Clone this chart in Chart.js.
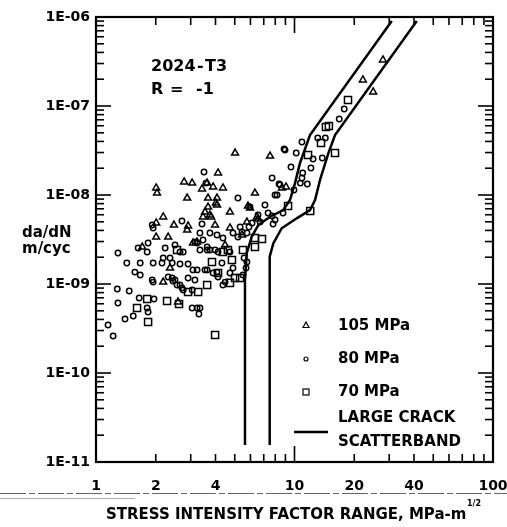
<!DOCTYPE html>
<html>
<head>
<meta charset="utf-8">
<script src="https://cdn.jsdelivr.net/npm/chart.js@4/dist/chart.umd.min.js"></script>
<style>
  html, body { margin: 0; padding: 0; background: #fff; }
</style>
</head>
<body>
<canvas id="fcg" width="507" height="527"></canvas>
<script>
/* Data: dK (MPa-m^1/2) and da/dN (m/cyc) */
const tri105X = [2.01, 2.03, 2.78, 3.05, 2.88, 2.18, 2.01, 2.47, 2.01, 2.31, 2.91, 5.02, 4.12, 3.63, 4.36, 3.42, 3.67, 4.07, 4.02, 6.32,
  3.67, 3.54, 3.46, 3.80, 5.97, 3.98, 5.76, 6.47, 4.73, 2.88, 3.08, 2.36, 3.23, 2.18, 2.59, 27.9, 22.1, 24.9, 7.53, 9.06,
  6.55, 8.65, 5.83, 3.89, 4.07, 3.75, 1.71, 5.44, 4.47, 4.73];
const tri105Y = [1.20e-8, 1.05e-8, 1.40e-8, 1.36e-8, 9.25e-9, 5.66e-9, 4.85e-9, 4.60e-9, 3.37e-9, 3.37e-9, 4.49e-9, 2.96e-8, 1.77e-8, 1.36e-8, 1.20e-8, 1.17e-8, 9.25e-9, 9.25e-9, 8.13e-9, 1.05e-8,
  7.33e-9, 6.44e-9, 5.66e-9, 5.66e-9, 7.14e-9, 4.60e-9, 4.97e-9, 5.66e-9, 6.44e-9, 4.04e-9, 2.89e-9, 1.51e-9, 2.96e-9, 1.05e-9, 6.28e-10, 3.29e-7, 1.96e-7, 1.44e-7, 2.74e-8, 1.23e-8,
  5.37e-9, 1.20e-8, 7.52e-9, 1.23e-8, 7.72e-9, 5.96e-9, 2.60e-9, 3.55e-9, 2.74e-9, 4.26e-9];

const circ80X = [1.15, 1.22, 1.28, 1.29, 1.47, 1.40, 1.54, 1.65, 1.96, 1.81, 1.83, 1.94, 1.57, 1.67, 1.43, 1.67, 1.94, 2.15, 2.18, 2.36,
  2.42, 2.65, 2.91, 2.44, 2.65, 2.75, 3.05, 3.23, 3.34, 3.30, 3.23, 1.29, 1.63, 1.81, 2.23, 2.75, 3.15, 3.34, 3.63, 3.98,
  4.12, 3.63, 3.08, 3.63, 4.31, 4.90, 1.92, 2.31, 2.42, 2.50, 2.91, 3.15, 2.56, 2.71, 3.05, 3.89, 4.12, 4.47, 4.36, 1.94,
  1.92, 2.71, 1.83, 2.50, 3.50, 3.58, 5.19, 3.42, 5.90, 8.17, 8.45, 7.10, 5.97, 6.55, 7.36, 7.98, 5.32, 6.71, 3.34, 3.75,
  4.07, 3.23, 3.46, 4.36, 4.90, 5.19, 5.44, 5.76, 2.65, 3.75, 4.73, 3.54, 4.07, 4.73, 5.76, 17.8, 16.8, 13.1, 14.3, 10.9,
  8.86, 10.2, 12.4, 13.8, 9.60, 12.1, 11.0, 10.9, 10.7, 11.6, 7.71, 8.36, 7.98, 9.94, 7.71, 8.75, 6.11, 7.80, 8.96, 5.57,
  5.70, 5.50];
const circ80Y = [3.46e-10, 2.60e-10, 8.79e-10, 6.12e-10, 8.34e-10, 4.04e-10, 4.37e-10, 6.96e-10, 6.79e-10, 5.37e-10, 4.85e-10, 1.05e-9, 1.36e-9, 1.26e-9, 1.72e-9, 1.72e-9, 1.72e-9, 1.72e-9, 1.96e-9, 1.96e-9,
  1.72e-9, 1.68e-9, 1.68e-9, 1.08e-9, 9.75e-10, 8.56e-10, 5.37e-10, 5.37e-10, 5.37e-10, 4.60e-10, 1.44e-9, 2.23e-9, 2.54e-9, 2.29e-9, 2.54e-9, 2.29e-9, 2.96e-9, 2.41e-9, 2.41e-9, 2.41e-9,
  2.29e-9, 2.60e-9, 1.44e-9, 1.44e-9, 1.72e-9, 1.51e-9, 1.11e-9, 1.20e-9, 1.17e-9, 1.11e-9, 1.17e-9, 1.11e-9, 9.75e-10, 9.02e-10, 8.56e-10, 1.33e-9, 1.20e-9, 1.05e-9, 9.75e-10, 4.26e-9,
  4.60e-9, 5.10e-9, 2.89e-9, 2.74e-9, 1.81e-8, 1.36e-8, 9.25e-9, 4.72e-9, 4.37e-9, 1.00e-8, 1.30e-8, 7.72e-9, 7.33e-9, 5.96e-9, 6.28e-9, 5.24e-9, 4.37e-9, 4.97e-9, 3.74e-9, 3.74e-9,
  3.55e-9, 2.89e-9, 3.12e-9, 3.29e-9, 3.74e-9, 3.37e-9, 3.84e-9, 3.74e-9, 2.29e-9, 2.41e-9, 2.29e-9, 1.44e-9, 1.36e-9, 1.33e-9, 1.77e-9, 9.25e-8, 7.14e-8, 4.37e-8, 4.37e-8, 3.94e-8,
  3.29e-8, 2.96e-8, 2.54e-8, 2.60e-8, 2.06e-8, 2.01e-8, 1.77e-8, 1.55e-8, 1.36e-8, 1.33e-8, 1.55e-8, 1.33e-8, 1.00e-8, 1.14e-8, 5.81e-9, 6.28e-9, 4.85e-9, 4.72e-9, 3.20e-8, 1.96e-9,
  1.51e-9, 1.26e-9];

const sq70X = [1.61, 1.81, 1.83, 2.28, 2.62, 2.91, 3.27, 3.63, 3.98, 2.56, 4.36, 3.84, 4.62, 4.84, 4.12, 4.73, 5.02, 5.32, 6.32, 6.86,
  6.32, 5.50, 18.6, 14.4, 14.9, 13.6, 11.7, 16.0, 9.28, 12.0];
const sq70Y = [5.37e-10, 6.79e-10, 3.74e-10, 6.44e-10, 5.96e-10, 8.13e-10, 8.13e-10, 9.75e-10, 2.67e-10, 2.41e-9, 2.29e-9, 1.77e-9, 2.41e-9, 1.86e-9, 1.33e-9, 1.03e-9, 1.17e-9, 1.17e-9, 2.60e-9, 3.20e-9,
  3.29e-9, 2.41e-9, 1.17e-7, 5.81e-8, 5.96e-8, 3.84e-8, 2.81e-8, 2.96e-8, 7.52e-9, 6.61e-9];

// large crack scatterband, lower and upper bound
const bandLowX = [5.63, 5.63, 5.75, 6.09, 6.57, 7.53, 8.78, 9.49, 10.06, 10.66, 11.97, 30.9];
const bandLowY = [1.55e-11, 1.11e-9, 2.23e-9, 3.40e-9, 4.60e-9, 5.70e-9, 6.78e-9, 8.79e-9, 1.36e-8, 2.29e-8, 4.72e-8, 9.0e-7];
const bandHighX = [7.50, 7.50, 7.82, 8.62, 10.26, 11.97, 12.69, 13.45, 14.80, 16.0, 41.3];
const bandHighY = [1.55e-11, 2.03e-9, 2.86e-9, 4.23e-9, 5.47e-9, 6.78e-9, 8.79e-9, 1.48e-8, 2.94e-8, 4.72e-8, 9.0e-7];

const xTickLabels = [1, 2, 4, 10, 20, 40, 100];
const yTickLabels = [1e-11, 1e-10, 1e-9, 1e-8, 1e-7, 1e-6];

const FONT = '"DejaVu Sans", sans-serif';

function pts(xs, ys) {
  return xs.map((x, i) => ({x: x, y: ys[i]}));
}

function marker(style, r) {
  return {
    type: 'scatter', pointStyle: style, pointRadius: r, pointHoverRadius: r,
    borderColor: '#000', backgroundColor: 'rgba(0,0,0,0)', pointBorderWidth: 1.5
  };
}

function band(xs, ys) {
  return {
    type: 'scatter', data: pts(xs, ys), showLine: true, pointRadius: 0,
    borderColor: '#000', borderWidth: 2.5, fill: false
  };
}

// frame, inward ticks on all four sides, texts and legend
const decor = {
  id: 'decor',
  afterDraw(chart) {
    const {ctx, chartArea: a, scales: {x, y}} = chart;
    ctx.save();
    ctx.strokeStyle = '#000';
    ctx.fillStyle = '#000';
    ctx.lineWidth = 2.2;
    ctx.strokeRect(a.left, a.top, a.right - a.left, a.bottom - a.top);

    const seg = (x1, y1, x2, y2) => { ctx.beginPath(); ctx.moveTo(x1, y1); ctx.lineTo(x2, y2); ctx.stroke(); };
    ctx.lineWidth = 1.6;
    for (let d = 1; d < 100; d *= 10) {
      for (let m = 1; m < 10; m++) {
        const v = d * m;
        if (v <= 1) continue;
        const px = x.getPixelForValue(v);
        const len = m === 1 ? 16 : 8;
        seg(px, a.bottom, px, a.bottom - len);
        seg(px, a.top, px, a.top + len);
      }
    }
    for (let e = -11; e < -6; e++) {
      for (let m = 1; m < 10; m++) {
        const v = m * Math.pow(10, e);
        if (e === -11 && m === 1) continue;
        const py = y.getPixelForValue(v);
        const len = m === 1 ? 15 : 8;
        seg(a.left, py, a.left + len, py);
        seg(a.right, py, a.right - len, py);
      }
    }

    // labels in the plot
    ctx.textBaseline = 'alphabetic';
    ctx.textAlign = 'left';
    ctx.font = 'bold 16px ' + FONT;
    ctx.fillText('2024', 151, 71);
    ctx.fillText('-', 197, 71);
    ctx.fillText('T3', 205, 71);
    ctx.fillText('R', 151, 94);
    ctx.fillText('=', 170, 94);
    ctx.fillText('-1', 196, 94);

    // y axis title, horizontal
    ctx.font = 'bold 15px ' + FONT;
    ctx.fillText('da/dN', 22, 237);
    ctx.fillText('m/cyc', 22, 253);

    // x axis title
    ctx.font = 'bold 15px ' + FONT;
    ctx.fillText('STRESS INTENSITY FACTOR RANGE, MPa-m', 106, 519);
    ctx.font = 'bold 8px ' + FONT;
    ctx.fillText('1/2', 467, 506);

    // legend
    ctx.font = 'bold 15px ' + FONT;
    ctx.textBaseline = 'middle';
    ctx.lineWidth = 1.2;
    ctx.beginPath();
    ctx.moveTo(306, 322); ctx.lineTo(309, 327.5); ctx.lineTo(303, 327.5); ctx.closePath(); ctx.stroke();
    ctx.fillText('105 MPa', 338, 326);
    ctx.beginPath(); ctx.arc(306, 359, 2, 0, Math.PI * 2); ctx.stroke();
    ctx.fillText('80 MPa', 338, 359);
    ctx.strokeRect(303, 389, 6, 6);
    ctx.fillText('70 MPa', 338, 392);
    ctx.lineWidth = 2.5;
    seg(294, 432, 328, 432);
    ctx.fillText('LARGE CRACK', 338, 418);
    ctx.fillText('SCATTERBAND', 338, 442);

    // scan lines under the tick labels
    ctx.lineWidth = 1;
    ctx.strokeStyle = '#666';
    ctx.setLineDash([26, 3, 6, 3]);
    seg(0, 493.5, 507, 493.5);
    ctx.setLineDash([]);
    ctx.strokeStyle = '#aaa';
    seg(0, 498.5, 135, 498.5);
    ctx.restore();
  }
};

new Chart('fcg', {
  type: 'scatter',
  data: {
    datasets: [
      Object.assign(marker('triangle', 4), {label: '105 MPa', data: pts(tri105X, tri105Y)}),
      Object.assign(marker('circle', 2.7), {label: '80 MPa', data: pts(circ80X, circ80Y)}),
      Object.assign(marker('rect', 5), {label: '70 MPa', data: pts(sq70X, sq70Y)}),
      Object.assign(band(bandLowX, bandLowY), {label: 'LARGE CRACK SCATTERBAND'}),
      Object.assign(band(bandHighX, bandHighY), {label: 'upper'})
    ]
  },
  options: {
    responsive: false,
    animation: false,
    layout: {padding: {left: 0, right: 14, top: 17, bottom: 0}},
    plugins: {legend: {display: false}, tooltip: {enabled: false}},
    scales: {
      x: {
        type: 'logarithmic', min: 1, max: 100,
        grid: {display: false, drawTicks: false},
        border: {display: false},
        afterBuildTicks: s => { s.ticks = xTickLabels.map(v => ({value: v})); },
        afterFit: s => { s.height = 65; s.paddingLeft = 0; s.paddingRight = 0; },
        ticks: {
          autoSkip: false, maxRotation: 0, padding: 16, color: '#000',
          font: {family: FONT, size: 14, weight: 'bold'},
          callback: v => String(v)
        }
      },
      y: {
        type: 'logarithmic', min: 1e-11, max: 1e-6,
        grid: {display: false, drawTicks: false},
        border: {display: false},
        afterBuildTicks: s => { s.ticks = yTickLabels.map(v => ({value: v})); },
        afterFit: s => { s.width = 96; s.paddingTop = 0; s.paddingBottom = 0; },
        ticks: {
          autoSkip: false, padding: 6, color: '#000',
          font: {family: FONT, size: 14, weight: 'bold'},
          callback: v => '1E-' + String(Math.round(-Math.log10(v))).padStart(2, '0')
        }
      }
    }
  },
  plugins: [decor]
});
</script>
</body>
</html>
